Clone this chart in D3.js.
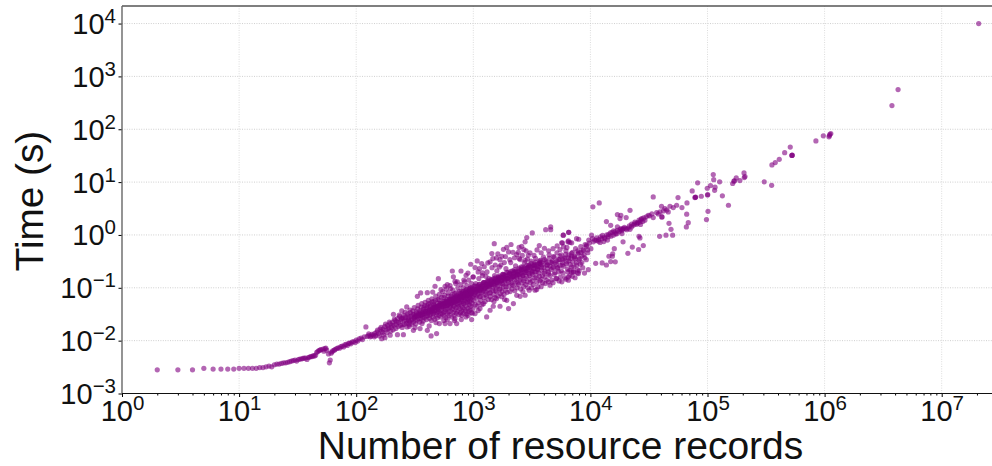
<!DOCTYPE html>
<html><head><meta charset="utf-8">
<script src="https://cdn.jsdelivr.net/npm/d3@7/dist/d3.min.js"></script>
<style>html,body{margin:0;padding:0;background:#fff}svg{display:block}text{font-family:"Liberation Sans",Arial,sans-serif;fill:#111}</style>
</head><body><svg id="c" width="992" height="466"></svg>
<script>
const xTickExponents=[0,1,2,3,4,5,6,7];
const yTickExponents=[-3,-2,-1,0,1,2,3,4];
const xLabel="Number of resource records";
const yLabel="Time (s)";
const tailPoints=[[2,.0028],[3,.0028],[4,.0028],[5,.003],[6,.0029],[7,.0029],[8,.0029],[9,.0029],[10,.003],[11,.003],[12,.003],[13,.003],[14,.003],[15,.0031],[16,.0031],[17,.0032],[18,.0033],[19,.0032],[20,.0035],[21,.0036],[22,.0036],[23,.0037],[24,.0038],[25,.0038],[26,.0039],[27,.004],[28,.0041],[29,.0042],[30,.0043],[31,.0041],[32,.0044],[33,.0045],[34,.0045],[35,.0046],[36,.0047],[37,.0047],[38,.0044],[39,.0048],[40,.0049],[41,.005],[42,.005],[43,.0052],[44,.0051],[45,.0053],[46,.006],[47,.0062],[48,.0065],[49,.0066],[50,.0068],[52,.0069],[53,.0063],[54,.0071],[55,.0072],[56,.0066],[58,.0056],[59,.0038],[60,.0043],[61,.0058],[62,.0061],[63,.0064],[65,.0066],[66,.0068],[68,.0071],[70,.0073],[72,.0072],[74,.0077],[76,.0079],[78,.0076],[80,.0083],[82,.0085],[84,.0081],[86,.0089],[88,.009],[90,.0087],[92,.0094],[95,.0096],[98,.0092],[100,.0102],[103,.0098],[106,.0108],[110,.0112],[113,.0105],[117,.0118],[121,.0182],[124,.012],[128,.0125],[132,.0118],[136,.0132],[140,.0127],[144,.0138],[147,.0125]];
const coreLowPoints=[[150,.0145],[155,.0135],[160,.0165],[165,.015],[170,.0165],[175,.0185],[180,.016],[185,.0195],[190,.0175],[195,.021],[200,.018],[205,.0225],[210,.0195],[215,.024],[220,.0205],[225,.026],[230,.022],[235,.0285],[240,.0235],[245,.0265],[250,.02],[255,.03],[260,.0245],[265,.0275],[270,.0215],[275,.032],[280,.027],[285,.023],[290,.034],[295,.029],[300,.025],[305,.0365],[310,.031],[315,.027],[320,.0245],[325,.035],[330,.029],[335,.04],[340,.032],[345,.026],[350,.037],[355,.03],[360,.043],[365,.034],[370,.028],[375,.039],[380,.032],[385,.046],[390,.036],[395,.029],[400,.042],[410,.033],[415,.05],[420,.038],[425,.03],[430,.045],[440,.035],[445,.054],[450,.041],[455,.032],[460,.048],[470,.037],[475,.058],[480,.043],[490,.034],[495,.051],[500,.039]];
const coreMidPoints=[[510,.06],[520,.047],[530,.037],[540,.052],[550,.043],[560,.065],[570,.049],[580,.039],[590,.056],[600,.046],[610,.07],[620,.053],[630,.042],[640,.06],[650,.05],[660,.075],[670,.057],[680,.045],[690,.064],[700,.053],[715,.08],[730,.061],[745,.048],[760,.068],[775,.057],[790,.086],[805,.066],[820,.051],[835,.074],[850,.062],[865,.092],[880,.07],[895,.055],[910,.079],[925,.066],[940,.099],[955,.075],[970,.059],[985,.085],[1000,.071],[1020,.108],[1040,.082],[1060,.064],[1080,.092],[1100,.077],[1120,.115],[1140,.088],[1160,.069],[1180,.099],[1200,.083],[1225,.126],[1250,.096],[1275,.075],[1300,.107],[1325,.09],[1350,.135],[1375,.103],[1400,.081],[1430,.116],[1460,.098],[1490,.147],[1520,.113],[1550,.088],[1580,.128],[1610,.107],[1640,.16],[1670,.123],[1700,.096],[1740,.139],[1780,.117],[1820,.175],[1860,.134],[1900,.105],[1950,.152],[2000,.128]];
const coreHighPoints=[[2050,.19],[2100,.146],[2150,.115],[2200,.166],[2250,.14],[2300,.205],[2350,.158],[2400,.125],[2460,.18],[2520,.152],[2580,.222],[2640,.17],[2700,.135],[2770,.195],[2840,.165],[2910,.24],[2980,.184],[3050,.146],[3130,.21],[3210,.178],[3290,.26],[3370,.198],[3450,.157],[3540,.226],[3630,.19],[3720,.28],[3810,.214],[3900,.17],[4000,.244],[4100,.205],[4200,.3],[4300,.23],[4400,.182],[4500,.26],[4620,.22],[4740,.32],[4860,.246],[4980,.195],[5100,.28],[5230,.236],[5360,.345],[5500,.265],[5640,.21],[5780,.3],[5930,.255],[6080,.37],[6230,.285],[6390,.225],[6550,.325],[6720,.275],[6890,.4],[7060,.31],[7240,.25],[7420,.355],[7600,.3],[7800,.44],[8000,.34],[8200,.28],[8450,.4],[8700,.5],[8950,.37],[9200,.6],[9500,.46],[9800,.7],[10100,.55]];
const coreRidgePoints=[[280,.0245],[320,.029],[350,.0325],[380,.035],[410,.037],[440,.04],[465,.0425],[490,.044],[515,.047],[540,.048],[565,.05],[590,.053],[615,.055],[640,.057],[665,.058],[690,.061],[720,.065],[750,.067],[780,.072],[810,.073],[840,.078],[870,.079],[900,.082],[930,.086],[960,.087],[990,.09],[1030,.093],[1070,.096],[1110,.1],[1150,.104],[1190,.108],[1240,.11],[1290,.116],[1340,.12],[1390,.122],[1450,.13],[1510,.132],[1570,.14],[1630,.143],[1690,.15],[1750,.155],[1820,.158],[1890,.165],[1970,.17],[2050,.178],[2130,.18],[2220,.19],[2310,.195],[2400,.2],[2500,.21],[2600,.215],[2700,.225],[2820,.23],[2940,.24],[3060,.25],[3200,.26],[3340,.27],[3500,.275],[3660,.29],[3830,.3]];
const scatterLow=[[128,.0135],[134,.0122],[143,.0118],[152,.0158],[158,.0123],[163,.0178],[168,.0142],[172,.0128],[178,.0205],[183,.0142],[188,.0168],[192,.0225],[198,.0152],[203,.0195],[207,.016],[212,.0255],[218,.017],[222,.023],[228,.0185],[233,.0305],[238,.0195],[243,.0252],[247,.0178],[252,.027],[258,.0205],[262,.0345],[268,.0235],[272,.0182],[278,.029],[283,.0205],[288,.038],[293,.0245],[298,.0205],[303,.031],[308,.0222],[313,.042],[318,.0285],[323,.0208],[328,.033],[333,.0245],[338,.0465],[343,.0295],[348,.0225],[353,.0345],[358,.026],[363,.05],[368,.0315],[373,.0235],[378,.042],[383,.027]];
const scatterNear1k=[[388,.053],[392,.033],[398,.025],[403,.046],[408,.03],[413,.058],[418,.035],[423,.0265],[428,.05],[433,.032],[438,.024],[443,.062],[448,.038],[453,.028],[458,.055],[463,.034],[468,.0255],[473,.045],[478,.07],[483,.031],[488,.042],[493,.027],[498,.06],[503,.036],[508,.03],[513,.075],[518,.05],[523,.033],[528,.028],[533,.066],[538,.04],[543,.032],[548,.085],[553,.055],[558,.034],[563,.03],[568,.072],[573,.045],[578,.036],[583,.027],[588,.095],[593,.06],[598,.04],[603,.032],[608,.08],[613,.048],[618,.035],[623,.03],[628,.062],[633,.11],[638,.044],[643,.036],[648,.07],[653,.028],[658,.052],[663,.04],[668,.09],[673,.034],[678,.062],[683,.047],[688,.03],[693,.078],[698,.038],[703,.055],[708,.12],[713,.042],[718,.033],[723,.07],[728,.05],[733,.036],[738,.1],[743,.058],[748,.044],[753,.031],[758,.085],[763,.052],[768,.04],[773,.068],[778,.034],[783,.115],[788,.06],[793,.047],[798,.037],[803,.08],[808,.055],[813,.042],[818,.1],[823,.033],[828,.065],[833,.05],[838,.04],[843,.13],[848,.072],[853,.056],[858,.036],[863,.088],[868,.045],[873,.063],[878,.032],[883,.11],[888,.052],[893,.075],[898,.041],[903,.06],[908,.036],[913,.14],[918,.085],[923,.048],[928,.07],[933,.055],[938,.038],[943,.1],[948,.062],[953,.045],[958,.078],[963,.034],[968,.12],[973,.067],[978,.05],[983,.09],[988,.04],[993,.16]];
const scatterTo3k=[[1010,.058],[1025,.075],[1035,.048],[1050,.12],[1065,.07],[1075,.045],[1090,.085],[1105,.052],[1115,.15],[1130,.068],[1145,.105],[1155,.058],[1170,.08],[1185,.048],[1195,.17],[1210,.09],[1230,.065],[1245,.125],[1260,.055],[1280,.085],[1295,.07],[1310,.2],[1330,.105],[1345,.06],[1360,.15],[1380,.08],[1395,.068],[1410,.115],[1430,.06],[1445,.24],[1465,.09],[1480,.13],[1500,.075],[1520,.17],[1535,.065],[1560,.105],[1575,.085],[1590,.21],[1610,.13],[1630,.07],[1650,.155],[1675,.095],[1695,.078],[1720,.27],[1740,.12],[1760,.085],[1785,.18],[1805,.105],[1830,.075],[1850,.145],[1880,.09],[1900,.23],[1925,.12],[1950,.082],[1975,.195],[2005,.105],[2030,.145],[2060,.085],[2085,.3],[2115,.125],[2140,.095],[2170,.21],[2200,.11],[2230,.16],[2260,.088],[2295,.26],[2325,.13],[2360,.1],[2395,.18],[2430,.115],[2470,.36],[2505,.14],[2540,.095],[2575,.25],[2610,.125],[2650,.17],[2690,.105],[2730,.3],[2770,.15],[2810,.115],[2850,.21],[2890,.13],[2930,.1],[2975,.27]];
const scatterTo10k=[[3020,.17],[3065,.125],[3110,.32],[3155,.19],[3200,.135],[3250,.115],[3300,.23],[3350,.155],[3400,.36],[3450,.2],[3500,.13],[3560,.105],[3610,.25],[3670,.165],[3730,.33],[3790,.145],[3850,.24],[3910,.125],[3970,.38],[4030,.19],[4100,.16],[4160,.32],[4230,.14],[4300,.27],[4370,.2],[4440,.42],[4520,.17],[4590,.3],[4670,.14],[4750,.24],[4830,.39],[4910,.18],[5000,.3],[5090,.15],[5180,.46],[5270,.24],[5360,.2],[5450,.34],[5550,.16],[5650,.42],[5750,.27],[5850,.19],[5960,.36],[6070,.155],[6180,.5],[6300,.31],[6420,.2],[6540,.42],[6660,.17],[6790,.36],[6920,.25],[7050,.47],[7190,.2],[7330,.38],[7470,.55],[7620,.27],[7770,.22],[7930,.46],[8100,.36],[8270,.6],[8450,.3],[8630,.52],[8820,.42],[9020,.66],[9230,.34],[9450,.52],[9680,.8]];
const scatterAbove10k=[[10400,.85],[10900,.8],[11300,.88],[11700,.76],[12200,.92],[12700,.98],[13200,.9],[13800,1],[14300,1.02],[14800,1.1],[15300,1.12],[15800,1.2],[16400,1.05],[17000,1.22],[17600,1.15],[18200,1.32],[18800,1.28],[19500,1.4],[21000,1.35],[21500,1.48],[22500,1.6],[24000,1.75],[25000,1.7],[26000,1.9],[27000,1.95],[28500,2.1],[30000,2.2],[32000,2.3],[33500,2.5]];
const secondRidge=[[310,.027],[335,.03],[362,.031],[392,.036],[418,.041],[447,.036],[472,.046],[497,.041],[522,.05],[547,.045],[572,.056],[597,.05],[622,.06],[647,.053],[672,.065],[697,.058],[722,.071],[747,.062],[772,.078],[797,.068],[822,.085],[847,.073],[872,.09],[897,.076],[922,.095],[947,.082],[972,.1],[997,.085],[1040,.108],[1085,.09],[1130,.118],[1175,.096],[1220,.125],[1270,.1],[1320,.135],[1370,.11],[1420,.145],[1480,.118],[1540,.155],[1600,.125],[1660,.168],[1725,.135],[1790,.18],[1860,.145],[1930,.195],[2010,.155],[2090,.205],[2170,.165],[2260,.22],[2350,.175],[2450,.235],[2550,.19],[2650,.25],[2760,.205],[2870,.27],[3000,.22],[3120,.29],[3250,.235],[3400,.305],[3550,.25],[3700,.32],[3870,.27],[4050,.34],[4250,.27],[4450,.36],[4680,.3],[4920,.38],[5200,.32],[5500,.4],[5800,.34],[6150,.43],[6500,.37],[6900,.45],[7300,.39],[7800,.5],[8300,.47]];
const thirdRidge=[[430,.038],[455,.043],[485,.038],[505,.045],[535,.044],[555,.051],[585,.046],[605,.054],[635,.05],[655,.06],[685,.054],[705,.065],[735,.058],[765,.07],[785,.064],[815,.077],[845,.068],[875,.083],[905,.072],[935,.09],[965,.078],[1005,.097],[1055,.085],[1095,.108],[1140,.094],[1205,.117],[1255,.104],[1310,.128],[1360,.113],[1435,.138],[1495,.122],[1555,.148],[1620,.133],[1700,.16],[1770,.142],[1850,.172],[1945,.15],[2040,.185],[2140,.158],[2240,.2],[2370,.168],[2480,.225],[2590,.182],[2720,.24],[2850,.195],[3000,.26],[3180,.205],[3320,.285],[3520,.225],[3720,.3]];
const upperOutliers=[[4580,1.42],[4150,1.26],[4580,1.26],[3190,1.09],[2860,.89],[2770,.74],[5870,.99],[6530,1.12],[5770,.71],[6490,.77],[6920,.71],[3660,.63],[2590,.61],[2460,.58],[1510,.685],[2100,.66],[1930,.58],[1810,.535],[2000,.477],[1440,.444],[1750,.395],[1580,.367],[1470,.357],[2350,.425],[2820,.5],[2950,.413],[2510,.342],[2770,.332],[1840,.3],[1330,.296],[1080,.323],[950,.279],[1180,.287],[1035,.241],[1130,.231],[1670,.248],[662,.208],[785,.208],[867,.172],[1200,.191],[1000,.161],[698,.133],[503,.149],[471,.107],[574,.107],[676,.161],[405,.081],[355,.08],[333,.069],[270,.0435],[208,.0316],[245,.0366]];
const extraUpper=[[1240,.25],[1390,.31],[1540,.27],[1620,.44],[1690,.34],[1880,.39],[2050,.34],[2180,.47],[2250,.37],[2420,.47],[2620,.41],[2700,.53],[2900,.35],[3050,.46],[3300,.41],[3500,.52],[3800,.46],[4050,.56],[4400,.5],[4800,.55],[5200,.62],[5500,.53],[5900,.6],[6300,.58],[830,.14],[900,.19],[1100,.2],[1280,.165],[600,.115],[730,.13],[450,.083],[530,.092],[640,.097]];
const lowerOutliers=[[2000,.0405],[1300,.0281],[968,.0251],[867,.0281],[721,.021],[633,.021],[574,.021],[513,.021],[486,.0136],[436,.0123],[405,.0157],[351,.0169],[318,.0177],[253,.013],[225,.013],[195,.0127],[176,.0114],[165,.0109],[308,.0157],[284,.0187],[1480,.0448],[1690,.0448],[2200,.0502],[2510,.069],[2770,.0723],[3480,.0925],[3370,.0898],[4520,.112],[5150,.149],[6490,.139],[7740,.191],[6920,.2],[3710,.135],[4380,.129],[1140,.0405],[1390,.0376],[1035,.0325],[796,.0302],[698,.0261],[1930,.058],[1580,.0625]];
const extraLower=[[1220,.05],[1500,.055],[1750,.068],[1850,.06],[2350,.072],[2650,.085],[3000,.09],[3150,.1],[3800,.105],[4100,.12],[4800,.125],[5400,.135],[5700,.13],[6200,.145],[7000,.165],[7400,.155],[8000,.21],[8600,.24],[8900,.19],[600,.025],[690,.024],[790,.025],[900,.03],[980,.033],[1100,.037],[480,.022],[560,.024],[365,.021],[420,.019]];
const bandPoints=[[9290,.64],[10230,.99],[10600,.74],[11300,.79],[12500,.85],[13300,.85],[14200,.92],[15700,.99],[16200,1.14],[17900,1.26],[19100,1.32],[20400,1.26],[21800,1.28],[23200,1.52],[24800,1.59],[26500,1.76],[27400,2.04],[29200,1.9],[31200,2.36],[34400,2.13],[36800,2.65],[39300,2.73],[40500,3.49],[43300,3.15],[46200,2.73],[47800,3.49],[51000,3.3],[54500,3.65],[11800,.82],[12100,.72],[13000,.75],[14000,.8],[15000,.95],[16800,1.05],[18500,1.2],[20000,1.32],[22400,1.42],[23800,1.62],[25500,1.68],[26800,1.58],[28000,1.8],[40800,2.19],[40800,2.19],[38000,2.5],[42000,2.85],[44800,2.95]];
const bandSidePoints=[[17000,2.43],[18200,2.36],[17900,2.04],[20200,2.13],[21800,2.93],[13700,1.79],[14900,1.52],[17000,1.42],[18600,1.06],[19000,.74],[26000,.94],[26500,.88],[16000,.55],[22800,.59],[28300,.63],[25800,.53],[20900,.45],[15500,.44],[14400,.395],[15400,.395],[16300,.31],[14900,.313],[13700,.27],[12600,.296],[11100,.29],[9600,.22],[7900,.186],[7150,.2],[6690,.215],[6470,.16],[5860,.99],[6520,1.12],[7620,.85],[7940,.83],[6430,.74],[6680,.72],[5680,.71],[10500,3.4],[11900,4.04],[34400,5.25],[56000,5.1],[60500,3.3],[66800,4.04],[66400,2.47],[68500,1.71],[66000,1.42],[48800,1.28],[46900,1.66],[50400,.99],[44200,.99],[39000,.94]];
const highEndPoints=[[74000,6.8],[79000,5.15],[79000,5.2],[78000,5.1],[82400,9.7],[88500,5.4],[99500,7.65],[100000,5.7],[100500,5.8],[101000,2.8],[98000,1.95],[106000,8.6],[112000,13.9],[113000,11.1],[115000,7],[116000,8],[127000,10.1],[134000,5.5],[151000,3.65],[164000,9.4],[168000,10.4],[170000,10.6],[176000,12],[189000,10.7],[205000,14.9],[209000,12.7],[206000,12.2],[305000,10.1],[353000,8.7],[355000,21.1],[379000,23.4],[410000,27],[456000,36],[526000,32],[526000,32],[530000,32.5],[509000,46],[843000,60],[975000,75],[1090000,72],[1110000,80],[1130000,83],[1100000,76],[3760000,281],[4240000,564],[20700000,10000]];

const pointGroups=[tailPoints,coreLowPoints,coreMidPoints,coreHighPoints,coreRidgePoints,scatterLow,scatterNear1k,scatterTo3k,scatterTo10k,scatterAbove10k,secondRidge,thirdRidge,upperOutliers,extraUpper,lowerOutliers,extraLower,bandPoints,bandSidePoints,highEndPoints];
const W=992,H=466,L=122,R=992,T=6,B=393.5;
const xDecade=117.1,yDecade=52.85;
const x=d3.scaleLog().domain([1,Math.pow(10,(R-L)/xDecade)]).range([L,R]);
const y=d3.scaleLog().domain([1e-3,Math.pow(10,(B-T)/yDecade-3)]).range([B,T]);
const svg=d3.select("#c");
const xMajors=xTickExponents.map(e=>Math.pow(10,e));
const yMajors=yTickExponents.map(e=>Math.pow(10,e));
svg.append("g").selectAll("line").data(xMajors.slice(1)).join("line")
 .attr("x1",d=>x(d)).attr("x2",d=>x(d)).attr("y1",T).attr("y2",B)
 .attr("stroke","#dcdcdc").attr("stroke-width",1).attr("stroke-dasharray","1,1.4");
svg.append("g").selectAll("line").data(yMajors.slice(1)).join("line")
 .attr("x1",L).attr("x2",R).attr("y1",d=>y(d)).attr("y2",d=>y(d))
 .attr("stroke","#cfcfcf").attr("stroke-width",1).attr("stroke-dasharray","1,1.4");
svg.append("g").selectAll("circle").data(pointGroups.flat()).join("circle")
 .attr("cx",d=>x(d[0])).attr("cy",d=>y(d[1])).attr("r",2.6)
 .attr("fill","#800080").attr("fill-opacity",.6);
function sup(sel,exps){
 sel.each(function(d,i){
  const t=d3.select(this);t.text(null);
  t.append("tspan").text("10");
  const e=exps[i];
  t.append("tspan").attr("dy","-11").attr("font-size",20.5).text(e<0?"\u2212"+(-e):String(e));
 });
}
const minors=[];
xTickExponents.forEach(e=>{for(let m=2;m<10;m++){const v=m*Math.pow(10,e);if(v<x.domain()[1])minors.push(v);}});
const gx=svg.append("g").attr("transform",`translate(0,${B})`).call(d3.axisBottom(x).tickValues(xMajors).tickSize(3.5).tickPadding(4));
gx.select(".domain").remove();
gx.selectAll(".tick text").attr("font-size",29).attr("font-family",'"Liberation Sans"').attr("fill","#111").attr("text-anchor","middle").attr("dy",null).attr("y",27);
sup(gx.selectAll(".tick text"),xTickExponents);
const gm=svg.append("g").attr("transform",`translate(0,${B})`).call(d3.axisBottom(x).tickValues(minors).tickSize(2).tickFormat(""));
gm.select(".domain").remove();
const gy=svg.append("g").attr("transform",`translate(${L},0)`).call(d3.axisLeft(y).tickValues(yMajors).tickSize(3.5));
gy.select(".domain").remove();
gy.selectAll(".tick text").attr("font-size",29).attr("font-family",'"Liberation Sans"').attr("fill","#111").attr("text-anchor","end").attr("x",-6).attr("dy",null).attr("y",10);
sup(gy.selectAll(".tick text"),yTickExponents);
svg.append("line").attr("x1",L).attr("x2",R).attr("y1",T).attr("y2",T).attr("stroke","#555").attr("stroke-width",1.4);
svg.append("line").attr("x1",L).attr("x2",L).attr("y1",T).attr("y2",B).attr("stroke","#666").attr("stroke-width",1.4);
svg.append("line").attr("x1",L).attr("x2",R).attr("y1",B).attr("y2",B).attr("stroke","#111").attr("stroke-width",1.2);
svg.append("text").attr("x",560.5).attr("y",459).attr("text-anchor","middle").attr("font-size",39).text(xLabel);
svg.append("text").attr("transform","translate(43,201) rotate(-90)").attr("text-anchor","middle").attr("font-size",38.7).text(yLabel);
</script></body></html>
